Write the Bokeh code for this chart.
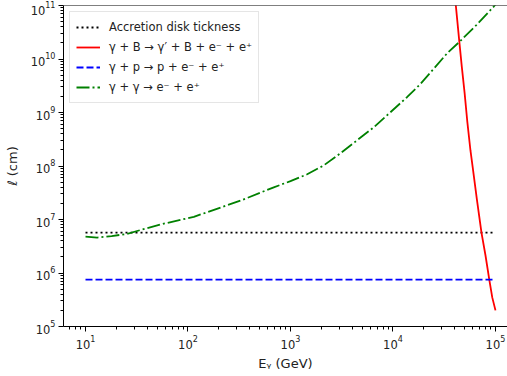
from bokeh.plotting import figure
from bokeh.models import FixedTicker, Legend, LegendItem, Span, LogTickFormatter
from bokeh.embed import file_html
from bokeh.resources import INLINE

# Photon energy grid (GeV) for the flat length scales
energy_flat = [10, 1e5]
disk_thickness = [5.7e6, 5.7e6]           # accretion disk thickness (cm)
pair_proton = [7.5e5, 7.5e5]              # gamma + p -> p + e- + e+ (cm)

# gamma + B -> gamma' + B + e- + e+
energy_mag = [4.05e4, 4.45e4, 4.7e4, 5.0e4, 5.3e4, 5.7e4, 6.0e4, 6.6e4,
              7.3e4, 8.0e4, 8.7e4, 9.3e4, 1.0e5]
pair_mag = [1.3e11, 2.0e10, 7.0e9, 2.3e9, 7.0e8, 1.95e8, 9.3e7, 2.3e7,
            5.7e6, 2.1e6, 7.5e5, 3.5e5, 2.0e5]

# gamma + gamma -> e- + e+
energy_gg = [10, 13, 18, 25, 54, 114, 241, 325, 687, 1000, 1455, 2100,
             3076, 6500, 1.37e4, 1.85e4, 3.4e4, 4.46e4, 6.5e4, 9.6e4, 1.0e5]
pair_gg = [4.8e6, 4.6e6, 4.9e6, 5.35e6, 8.1e6, 1.12e7, 1.85e7, 2.25e7,
           4.0e7, 5.2e7, 7.0e7, 1.02e8, 1.73e8, 5.3e8, 1.93e9, 3.4e9,
           1.3e10, 2.1e10, 4.3e10, 9.5e10, 1.05e11]

x_ticks = [10, 100, 1000, 1e4, 1e5]
y_ticks = [1e5, 1e6, 1e7, 1e8, 1e9, 1e10, 1e11]

FONT = "DejaVu Sans"
FS = "11.5px"

p = figure(width=507, height=376, x_axis_type="log", y_axis_type="log",
           x_range=(6.1, 1.31e5), y_range=(1e5, 1e11),
           output_backend="svg", toolbar_location=None,
           min_border_left=63, min_border_top=5, min_border_right=0,
           min_border_bottom=50)
p.xgrid.visible = False
p.ygrid.visible = False
p.outline_line_color = None
p.add_layout(Span(location=1e11, dimension="width", line_color="black",
                  line_width=1))


def minors(lo_exp, hi_exp, lo, hi):
    out = []
    for e in range(lo_exp, hi_exp + 1):
        for m in range(2, 10):
            v = m * 10.0 ** e
            if lo <= v <= hi:
                out.append(v)
    return out


p.xaxis.ticker = FixedTicker(ticks=x_ticks, minor_ticks=minors(0, 5, 6.1, 1.31e5))
p.yaxis.ticker = FixedTicker(ticks=y_ticks, minor_ticks=minors(5, 10, 1e5, 1e11))
p.xaxis.formatter = LogTickFormatter()
p.yaxis.formatter = LogTickFormatter()

for ax in (p.xaxis, p.yaxis):
    ax.axis_line_color = "black"
    ax.major_tick_line_color = "black"
    ax.minor_tick_line_color = "black"
    ax.major_tick_out = 5
    ax.major_tick_in = 0
    ax.minor_tick_out = 3
    ax.minor_tick_in = 0
    ax.major_label_text_font = FONT
    ax.major_label_text_font_size = FS
    ax.major_label_text_color = "#222222"
    ax.axis_label_text_font = FONT
    ax.axis_label_text_font_size = "13px"
    ax.axis_label_text_font_style = "normal"
    ax.axis_label_text_color = "#222222"
    ax.major_label_standoff = 3

p.xaxis.axis_label = "Eᵧ (GeV)"
p.yaxis.axis_label = "ℓ (cm)"
p.yaxis.axis_label_standoff = 8
p.xaxis.axis_label_standoff = 4

r_disk = p.line(energy_flat, disk_thickness, line_color="black", line_width=1.8,
                line_dash="2 3")
r_mag = p.line(energy_mag, pair_mag, line_color="red", line_width=1.8)
r_pp = p.line(energy_flat, pair_proton, line_color="blue", line_width=1.8,
              line_dash="7 3")
r_gg = p.line(energy_gg, pair_gg, line_color="green", line_width=1.8,
              line_dash="13 3 2 3")

legend = Legend(items=[
    LegendItem(label="Accretion disk tickness", renderers=[r_disk]),
    LegendItem(label="γ + B → γ′ + B + e⁻ + e⁺", renderers=[r_mag]),
    LegendItem(label="γ + p → p + e⁻ + e⁺", renderers=[r_pp]),
    LegendItem(label="γ + γ → e⁻ + e⁺", renderers=[r_gg]),
], location="top_left")
legend.margin = 6
legend.padding = 6
legend.spacing = 2
legend.label_height = 18
legend.glyph_height = 18
legend.glyph_width = 24
legend.label_standoff = 9
legend.label_text_font = FONT
legend.label_text_font_size = FS
legend.label_text_color = "#222222"
legend.border_line_color = "#cccccc"
legend.background_fill_alpha = 0.8
p.add_layout(legend)

open("out.html", "w").write(file_html(p, INLINE))
